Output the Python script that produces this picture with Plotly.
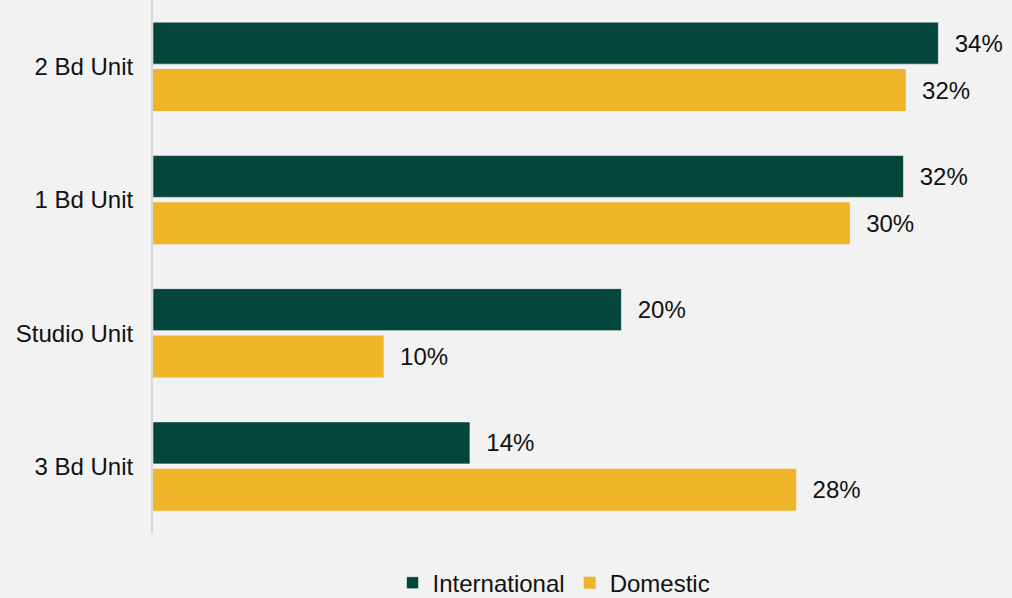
import plotly.graph_objects as go

# Unit types, top to bottom
categories = ["2 Bd Unit", "1 Bd Unit", "Studio Unit", "3 Bd Unit"]

# Share of respondents preferring each unit type (%)
international = [33.7, 32.2, 20.1, 13.6]
domestic = [32.3, 29.9, 9.9, 27.6]

series_names = ["International", "Domestic"]

GREEN = "#04463B"
GOLD = "#F0B428"
BG = "#F2F2F2"
FONT = "Liberation Sans, Arial, sans-serif"
TEXT = "#111111"
SIZE = 24

fig = go.Figure()

fig.add_trace(go.Bar(
    name=series_names[0],
    y=categories,
    x=international,
    orientation="h",
    marker=dict(color=GREEN, line=dict(color="rgba(255,255,255,0.55)", width=1)),
    texttemplate="\u00a0\u00a0%{x:.0f}%",
    textposition="outside",
    textfont=dict(family=FONT, size=SIZE, color=TEXT),
    cliponaxis=False,
))

fig.add_trace(go.Bar(
    name=series_names[1],
    y=categories,
    x=domestic,
    orientation="h",
    marker=dict(color=GOLD, line=dict(width=0)),
    texttemplate="\u00a0\u00a0%{x:.0f}%",
    textposition="outside",
    textfont=dict(family=FONT, size=SIZE, color=TEXT),
    cliponaxis=False,
))

fig.update_layout(
    width=1012,
    height=598,
    barmode="group",
    bargap=0.295,
    bargroupgap=0.106,
    paper_bgcolor=BG,
    plot_bgcolor=BG,
    margin=dict(l=153, r=20, t=0, b=65, autoexpand=False),
    font=dict(family=FONT, size=SIZE, color=TEXT),
    showlegend=True,
    legend=dict(
        orientation="h",
        x=0.478,
        xanchor="center",
        y=-0.094,
        yanchor="middle",
        font=dict(family=FONT, size=SIZE, color=TEXT),
        bgcolor="rgba(0,0,0,0)",
        itemwidth=30,
        traceorder="normal",
    ),
    uniformtext=dict(mode=False),
)

fig.update_xaxes(
    range=[0, 36],
    showgrid=False,
    zeroline=False,
    showticklabels=False,
    showline=False,
    ticks="",
)

fig.update_yaxes(
    autorange="reversed",
    showgrid=False,
    zeroline=False,
    showline=True,
    linecolor="#D9D9D9",
    linewidth=2,
    ticks="",
    ticklabelstandoff=13,
    tickfont=dict(family=FONT, size=SIZE, color=TEXT),
)

fig.write_html("out.html")
